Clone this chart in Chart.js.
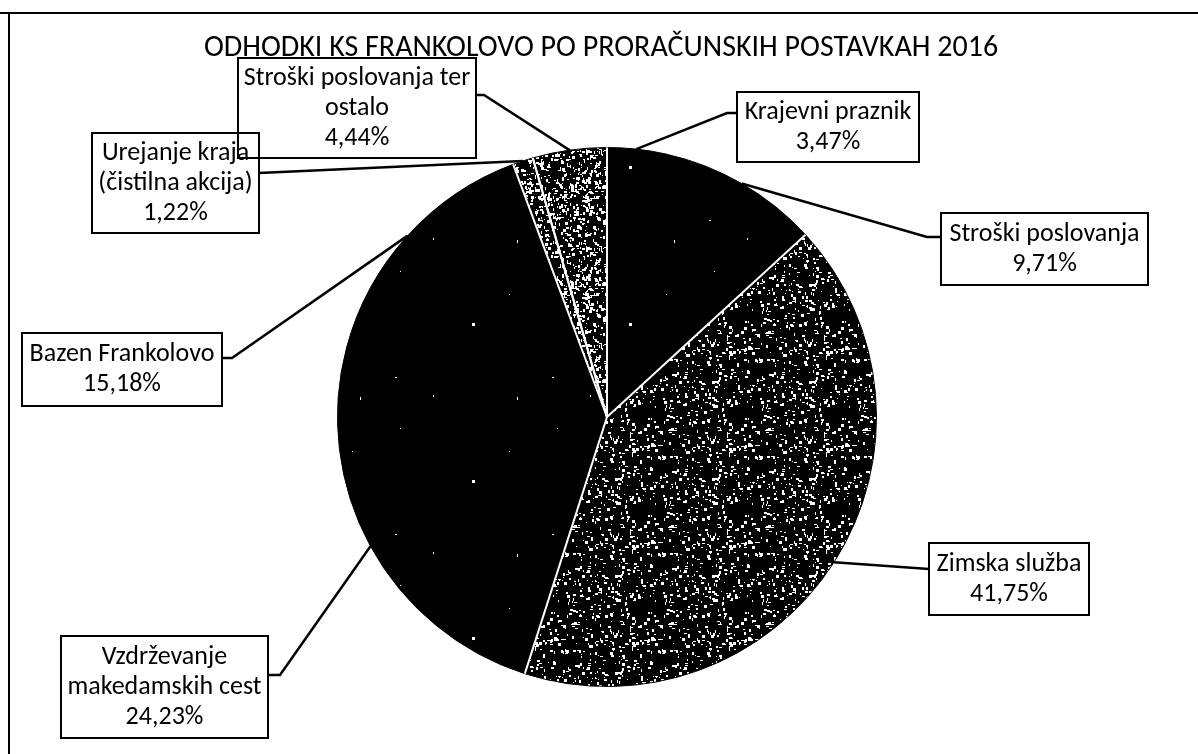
<!DOCTYPE html>
<html>
<head>
<meta charset="utf-8">
<script src="https://cdn.jsdelivr.net/npm/chart.js@4/dist/chart.umd.min.js"></script>
<style>
    html, body { margin: 0; padding: 0; background: #ffffff; }
    #wrap { width: 1198px; height: 754px; position: relative; }
</style>
</head>
<body>
<div id="wrap"><canvas id="pie"></canvas></div>
<script>
// ============================================
// ODHODKI KS FRANKOLOVO 2016 - pie chart
// ============================================

const chartTitle = 'ODHODKI KS FRANKOLOVO PO PRORAČUNSKIH POSTAVKAH 2016';

const categories = [
    ['Krajevni praznik'],
    ['Stroški poslovanja'],
    ['Zimska služba'],
    ['Vzdrževanje', 'makedamskih cest'],
    ['Bazen Frankolovo'],
    ['Urejanje kraja', '(čistilna akcija)'],
    ['Stroški poslovanja ter', 'ostalo']
];

const shares = [3.47, 9.71, 41.75, 24.23, 15.18, 1.22, 4.44];

// which slices are printed with the light speckle
const speckled = [false, false, true, false, false, true, true];

// label boxes (left, top, width, height), leader attach side + elbow
const labelLayout = [
    { x: 737, y: 92,  w: 182, h: 70,  side: 'left',  ay: 113, elbow: 10 },
    { x: 941, y: 213, w: 207, h: 72,  side: 'left',  ay: 237, elbow: 14 },
    { x: 929, y: 543, w: 160, h: 72,  side: 'left',  ay: 569, elbow: 0 },
    { x: 61,  y: 636, w: 207, h: 102, side: 'right', ay: 675, elbow: 12 },
    { x: 22,  y: 333, w: 200, h: 73,  side: 'right', ay: 358, elbow: 10 },
    { x: 92,  y: 133, w: 167, h: 100, side: 'right', ay: 173, elbow: 0 },
    { x: 238, y: 58,  w: 238, h: 100, side: 'right', ay: 95,  elbow: 8 }
];

const FONT = 'Carlito, Lato, "Open Sans", sans-serif';

/**
 * Scanned-print texture: black with white flecks (deterministic hash)
 */
function makeSpeckle(tile, count, seed) {
    const c = document.createElement('canvas');
    c.width = tile;
    c.height = tile;
    const g = c.getContext('2d');
    g.fillStyle = '#000000';
    g.fillRect(0, 0, tile, tile);
    g.fillStyle = '#ffffff';
    let a = seed >>> 0;
    const next = () => {
        a = (a + 0x6D2B79F5) >>> 0;
        let t = a;
        t = Math.imul(t ^ (t >>> 15), t | 1);
        t ^= t + Math.imul(t ^ (t >>> 7), t | 61);
        return ((t ^ (t >>> 14)) >>> 0) / 4294967296;
    };
    for (let i = 0; i < count; i++) {
        const px = Math.floor(next() * tile);
        const py = Math.floor(next() * tile);
        const w = 1 + Math.floor(next() * 3);
        const h = 1 + Math.floor(next() * 3);
        g.fillRect(px, py, w, h);
    }
    return g.createPattern(c, 'repeat');
}

const darkFill = makeSpeckle(157, 6, 7);
const lightFill = makeSpeckle(97, 330, 11);
const denseFill = makeSpeckle(97, 700, 23);

function percentText(v) {
    return v.toFixed(2).replace('.', ',') + '%';
}

const annotationPlugin = {
    id: 'annotations',
    beforeDraw(chart) {
        const ctx = chart.ctx;
        ctx.save();
        ctx.fillStyle = '#ffffff';
        ctx.fillRect(0, 0, chart.width, chart.height);
        // frame (top + left edge of the scanned chart box)
        ctx.strokeStyle = '#000000';
        ctx.lineWidth = 2;
        ctx.beginPath();
        ctx.moveTo(0, 13);
        ctx.lineTo(chart.width, 13);
        ctx.moveTo(9, 13);
        ctx.lineTo(9, chart.height);
        ctx.stroke();
        // title
        ctx.fillStyle = '#000000';
        ctx.font = '30px ' + FONT;
        ctx.textAlign = 'center';
        ctx.textBaseline = 'middle';
        ctx.fillText(chartTitle, 601, 48);
        ctx.restore();
    },
    afterDatasetsDraw(chart) {
        // white seams only where the speckled slices meet a neighbour
        const ctx = chart.ctx;
        const arcs = chart.getDatasetMeta(0).data;
        ctx.save();
        ctx.strokeStyle = '#ffffff';
        ctx.lineWidth = 2;
        arcs.forEach((arc, i) => {
            if (!speckled[i]) return;
            const p = arc.getProps(['x', 'y', 'startAngle', 'endAngle', 'outerRadius'], true);
            [p.startAngle, p.endAngle].forEach(a => {
                ctx.beginPath();
                ctx.moveTo(p.x, p.y);
                ctx.lineTo(p.x + Math.cos(a) * p.outerRadius, p.y + Math.sin(a) * p.outerRadius);
                ctx.stroke();
            });
        });
        ctx.restore();
    },
    afterDraw(chart) {
        const ctx = chart.ctx;
        const arcs = chart.getDatasetMeta(0).data;
        ctx.save();
        ctx.strokeStyle = '#000000';
        ctx.fillStyle = '#000000';
        ctx.font = '26px ' + FONT;
        ctx.textAlign = 'center';
        ctx.textBaseline = 'middle';
        arcs.forEach((arc, i) => {
            const box = labelLayout[i];
            const p = arc.getProps(['x', 'y', 'startAngle', 'endAngle', 'outerRadius'], true);
            const mid = (p.startAngle + p.endAngle) / 2;
            const tipX = p.x + Math.cos(mid) * p.outerRadius;
            const tipY = p.y + Math.sin(mid) * p.outerRadius;
            const edgeX = box.side === 'left' ? box.x : box.x + box.w;
            const elbowX = box.side === 'left' ? edgeX - box.elbow : edgeX + box.elbow;

            // leader line
            ctx.lineWidth = 2.5;
            ctx.beginPath();
            ctx.moveTo(tipX, tipY);
            ctx.lineTo(elbowX, box.ay);
            ctx.lineTo(edgeX, box.ay);
            ctx.stroke();

            // box
            ctx.lineWidth = 2;
            ctx.strokeRect(box.x, box.y, box.w, box.h);

            // text
            const lines = categories[i].concat([percentText(shares[i])]);
            const lh = 30;
            const top = box.y + box.h / 2 - (lines.length - 1) * lh / 2;
            lines.forEach((t, k) => ctx.fillText(t, box.x + box.w / 2, top + k * lh));
        });
        ctx.restore();
    }
};

const ctxPie = document.getElementById('pie');
new Chart(ctxPie, {
    type: 'pie',
    data: {
        labels: categories.map(c => c.join(' ')),
        datasets: [{
            data: shares,
            backgroundColor: speckled.map((s, i) => (s ? (i === 2 ? lightFill : denseFill) : darkFill)),
            borderColor: '#000000',
            borderWidth: 1
        }]
    },
    options: {
        responsive: true,
        maintainAspectRatio: false,
        animation: false,
        layout: {
            padding: { top: 147, bottom: 67, left: 300, right: 284 }
        },
        plugins: {
            legend: { display: false },
            tooltip: { enabled: false },
            title: { display: false }
        }
    },
    plugins: [annotationPlugin]
});
</script>
</body>
</html>
